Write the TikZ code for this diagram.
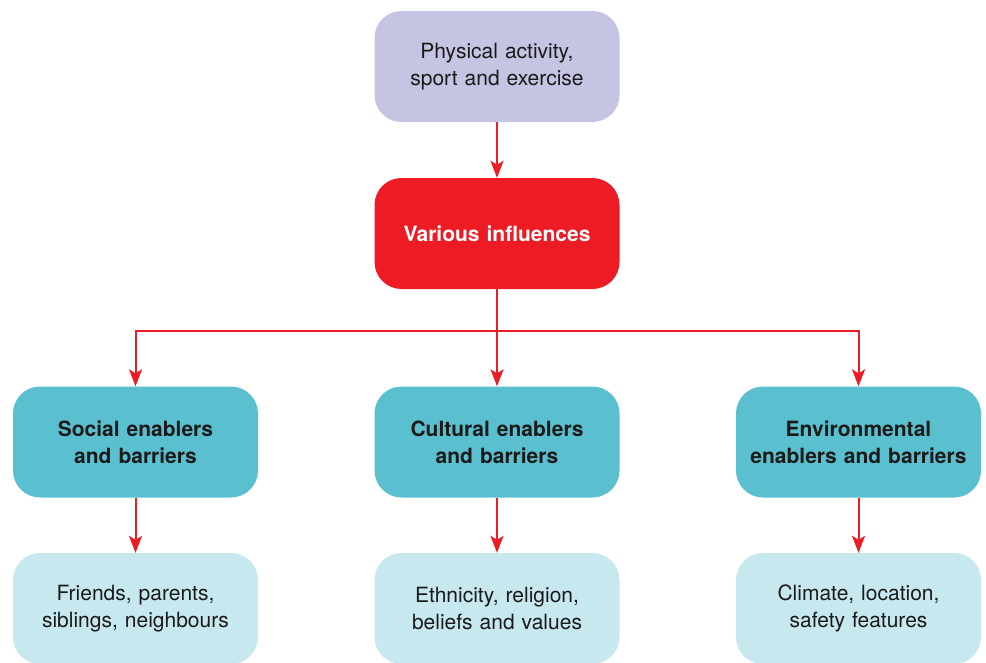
\documentclass[tikz,border=0pt]{standalone}
\usepackage{fontspec}
\setmainfont{TeX Gyre Heros}
\usetikzlibrary{arrows.meta}
\definecolor{boxpurple}{RGB}{197,197,227}
\definecolor{boxred}{RGB}{237,28,36}
\definecolor{boxteal}{RGB}{90,192,207}
\definecolor{boxlight}{RGB}{200,232,239}
\definecolor{inkdark}{RGB}{26,26,26}
\tikzset{
  card/.style={rectangle, rounded corners=27pt, minimum width=245pt, minimum height=111pt,
    text width=240pt, align=center, inner sep=0pt, text=inkdark,
    font=\fontsize{21}{27}\selectfont},
  cardbold/.style={card, font=\fontsize{21}{27}\selectfont\bfseries},
  conn/.style={draw=boxred, line width=2pt},
  arr/.style={conn, -{Stealth[length=17pt, width=13pt, inset=4pt]}}
}
\begin{document}
\begin{tikzpicture}[x=1pt, y=-1pt]
  \useasboundingbox (0,0) rectangle (986,662);
  \clip (0,0) rectangle (986,662);
  \fill[white] (0,0) rectangle (986,662);

  % top level
  \node[card, fill=boxpurple] (activity) at (497,66.5) {Physical activity,\\sport and exercise};
  \node[cardbold, fill=boxred, text=white] (influences) at (497,233.5) {Various influences};

  % categories
  \node[cardbold, fill=boxteal] (social) at (135.5,442) {Social enablers\\and barriers};
  \node[cardbold, fill=boxteal] (cultural) at (497,442) {Cultural enablers\\and barriers};
  \node[cardbold, fill=boxteal] (environmental) at (858.5,442) {Environmental\\enablers and barriers};

  % examples
  \node[card, fill=boxlight] (socialex) at (135.5,608.5) {Friends, parents,\\siblings, neighbours};
  \node[card, fill=boxlight] (culturalex) at (497,608.5) {Ethnicity, religion,\\beliefs and values};
  \node[card, fill=boxlight] (environmentalex) at (858.5,608.5) {Climate, location,\\safety features};

  % connectors
  \draw[arr] (activity.south) -- (influences.north);
  \coordinate (split) at (497,331);
  \draw[conn] (influences.south) -- (split);
  \draw[arr] (split) -| (social.north);
  \draw[arr] (split) -- (cultural.north);
  \draw[arr] (split) -| (environmental.north);
  \draw[arr] (social.south) -- (socialex.north);
  \draw[arr] (cultural.south) -- (culturalex.north);
  \draw[arr] (environmental.south) -- (environmentalex.north);
\end{tikzpicture}
\end{document}
